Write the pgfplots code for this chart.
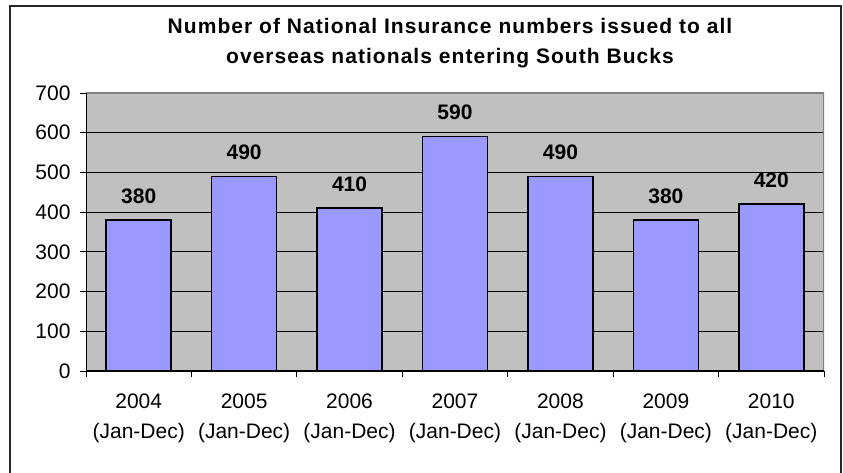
\documentclass[border=0pt]{standalone}
\usepackage{fontspec}
\setmainfont{Liberation Sans}
\newfontfamily\titlefont[LetterSpace=5]{Liberation Sans}
\usepackage{pgfplots}
\pgfplotsset{compat=1.18}
\definecolor{plotgray}{RGB}{192,192,192}
\definecolor{edgegray}{RGB}{128,128,128}
\definecolor{barblue}{RGB}{153,153,255}
\begin{document}
\begin{tikzpicture}[x=1pt,y=1pt]
\useasboundingbox (0,0) rectangle (843,473);
\draw[line width=1.3pt, black!85] (10,-10) rectangle (841,467);
\node[font=\titlefont\bfseries\fontsize{21}{30}\selectfont, anchor=base] at (450,439) {Number of National Insurance numbers issued to all};
\node[font=\titlefont\bfseries\fontsize{21}{30}\selectfont, anchor=base] at (450,409) {overseas nationals entering South Bucks};
\begin{axis}[
  at={(86pt,102pt)}, anchor=south west,
  scale only axis, width=738pt, height=278pt,
  xmin=-0.5, xmax=6.5, ymin=0, ymax=700,
  ytick={0,100,...,700},
  xtick={-0.5,0.5,...,6.5}, xticklabels={},
  extra x ticks={0,1,2,3,4,5,6},
  extra x tick labels={{2004\\(Jan-Dec)},{2005\\(Jan-Dec)},{2006\\(Jan-Dec)},{2007\\(Jan-Dec)},{2008\\(Jan-Dec)},{2009\\(Jan-Dec)},{2010\\(Jan-Dec)}},
  extra x tick style={tick style={draw=none}, grid=none},
  xtick pos=bottom, ytick pos=left,
  tick align=outside, major tick length=6pt,
  tick style={black, line width=0.9pt},
  ymajorgrids, grid style={black, line width=0.9pt},
  axis line style={draw=none},
  axis background/.style={fill=plotgray},
  /pgf/number format/assume math mode=true,
  ticklabel style={font=\fontsize{21}{30}\selectfont},
  xticklabel style={align=center, yshift=-13pt},
  yticklabel style={xshift=-6pt},
  ybar, bar width=65pt,
  nodes near coords,
  every node near coord/.append style={font=\bfseries\fontsize{21}{25}\selectfont, anchor=base, inner sep=0pt, yshift=17pt, text=black},
]
\addplot[fill=barblue, draw=black, line width=1.5pt] coordinates {(0,380) (1,490) (2,410) (3,590) (4,490) (5,380) (6,420)};
\draw[edgegray, line width=1.2pt] (rel axis cs:0,1) -- (rel axis cs:1,1) -- (rel axis cs:1,0);
\draw[black, line width=1.2pt] (rel axis cs:0,1) -- (rel axis cs:0,0) -- (rel axis cs:1,0);
\end{axis}
\end{tikzpicture}
\end{document}
